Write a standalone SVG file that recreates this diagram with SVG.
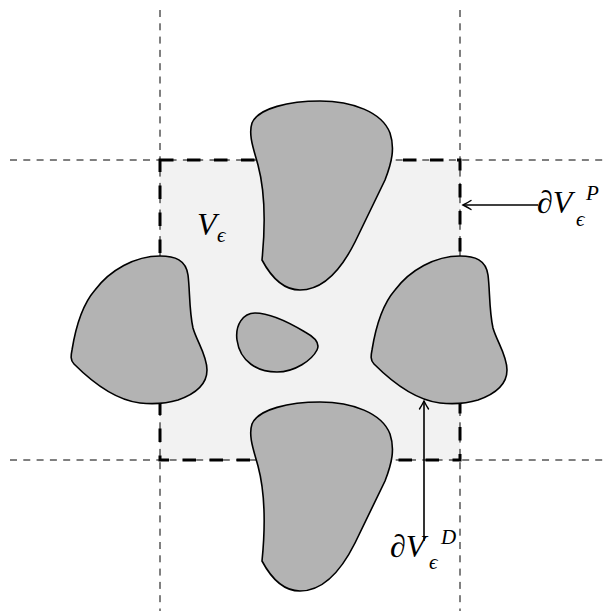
<svg xmlns="http://www.w3.org/2000/svg" width="608" height="611" viewBox="0 0 608 611">
<defs>
<style>
.grid{stroke:#000;stroke-width:1;stroke-dasharray:7 6.3;fill:none}
.box{stroke:#000;stroke-width:3;stroke-dasharray:13.5 13.5;fill:#f2f2f2}
.blob{fill:#b3b3b3;stroke:#000;stroke-width:1.6}
.arr{stroke:#000;stroke-width:1.6;fill:none;marker-end:url(#ah)}
.t{font-family:"Liberation Serif","DejaVu Serif",serif;fill:#000;font-size:32px}
.it{font-style:italic}
.sm{font-size:21px;font-style:italic}
</style>
<marker id="ah" markerWidth="12" markerHeight="12" viewBox="-10 -6 12 12" refX="0" refY="0" orient="auto" markerUnits="userSpaceOnUse">
<path d="M-8,-4.5 C-5,-2.5 -2,-1 0,0 C-2,1 -5,2.5 -8,4.5" fill="none" stroke="#000" stroke-width="1.4" stroke-linecap="round"/>
</marker>
<path id="blobV" d="M320,101 C352,101 382,112 390,133 C395,148 392,162 385,180 L355,242 C340,272 322,290 300,290 C282,290 270,275 262,260 C265,230 266,195 258,165 C254,150 248,135 252,123 C258,108 290,101 320,101 Z"/>
<path id="blobH" d="M160,256 C175,256 186,260 188,275 C190,290 189,310 193,328 C197,342 207,355 207,370 C207,385 195,394 178,400 C165,404 150,404 140,403 C115,400 90,380 74,364 C70,360 71,355 72,350 C76,325 82,305 95,290 C110,270 135,256 160,256 Z"/>
</defs>
<g id="region">
<rect class="box" x="160" y="160" width="300" height="300"/>
</g>
<g id="gridlines">
<line class="grid" x1="160" y1="10" x2="160" y2="611"/>
<line class="grid" x1="460" y1="10" x2="460" y2="611"/>
<line class="grid" x1="10" y1="160" x2="608" y2="160"/>
<line class="grid" x1="10" y1="460" x2="608" y2="460"/>
</g>
<g id="blob-top"><use href="#blobV" class="blob"/></g>
<g id="blob-bottom"><use href="#blobV" class="blob" transform="translate(0,301)"/></g>
<g id="blob-left"><use href="#blobH" class="blob"/></g>
<g id="blob-right"><use href="#blobH" class="blob" transform="translate(300,0)"/></g>
<g id="blob-center"><path class="blob" d="M255,313 C270,313 290,323 305,332 C316,338 320,344 317,350 C312,360 295,372 277,372 C258,372 240,362 237,340 C235,325 243,313 255,313 Z"/></g>
<g id="connectors">
<line class="arr" x1="538" y1="205" x2="463" y2="205"/>
<line class="arr" x1="424" y1="541" x2="424" y2="401"/>
</g>
<g id="label-V">
<text class="t"><tspan class="it" x="197" y="235">V</tspan><tspan class="sm" x="217" y="242">ϵ</tspan></text>
</g>
<g id="label-P">
<text class="t"><tspan x="537" y="213">∂<tspan class="it">V</tspan></tspan><tspan class="sm" x="576" y="226">ϵ</tspan><tspan class="sm" x="586" y="200">P</tspan></text>
</g>
<g id="label-D">
<text class="t"><tspan x="390" y="557">∂<tspan class="it">V</tspan></tspan><tspan class="sm" x="429" y="569">ϵ</tspan><tspan class="sm" x="441" y="544">D</tspan></text>
</g>
</svg>
